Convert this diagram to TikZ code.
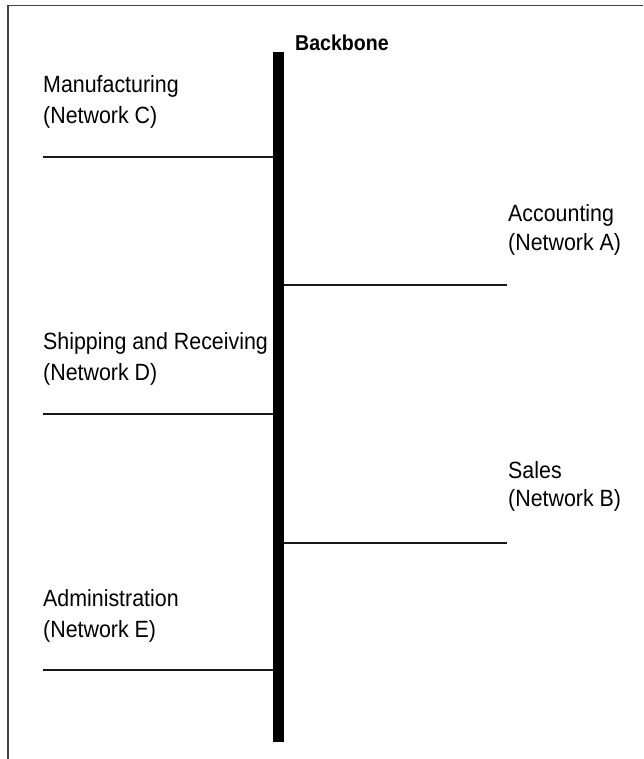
\documentclass[tikz,border=0pt]{standalone}
\usepackage{fontspec}
\setmainfont{Liberation Sans}[FakeStretch=0.91]
\begin{document}
\begin{tikzpicture}[x=1pt,y=-1pt,
  lbl/.style={anchor=base west, inner sep=0pt, font=\fontsize{23.5}{27}\selectfont},
  seg/.style={line width=2.2pt, draw=black!90},
  frameline/.style={line width=1.6pt, draw=black!75}]
\useasboundingbox (0,0) rectangle (643,759);
% frame (top and left edges)
\coordinate (ftr) at (643,5.5);
\coordinate (ftl) at (8,5.5);
\coordinate (fbl) at (8,759);
\draw[frameline] (ftr) -- (ftl) -- (fbl);
% backbone
\node[fill=black, inner sep=0pt, minimum width=11pt, minimum height=690pt, anchor=north west] (bb) at (273,52) {};
\node[anchor=base west, inner sep=0pt, font=\bfseries\fontsize{21.5}{24}\selectfont] (bbl) at (295,51) {Backbone};
% left networks
\node[lbl] (mC1) at (43,93) {Manufacturing};
\node[lbl] (mC2) at (43,124) {(Network C)};
\coordinate (C) at (43,157);
\draw[seg] (C) -- (C -| bb.west);
\node[lbl] (mD1) at (43,349) {Shipping and Receiving};
\node[lbl] (mD2) at (43,380) {(Network D)};
\coordinate (D) at (43,414);
\draw[seg] (D) -- (D -| bb.west);
\node[lbl] (mE1) at (43,606) {Administration};
\node[lbl] (mE2) at (43,637) {(Network E)};
\coordinate (E) at (43,670);
\draw[seg] (E) -- (E -| bb.west);
% right networks
\node[lbl] (mA1) at (508,222) {Accounting};
\node[lbl] (mA2) at (508,250) {(Network A)};
\coordinate (A) at (507,285);
\draw[seg] (A -| bb.east) -- (A);
\node[lbl] (mB1) at (508,478) {Sales};
\node[lbl] (mB2) at (508,506) {(Network B)};
\coordinate (B) at (507,543);
\draw[seg] (B -| bb.east) -- (B);
\end{tikzpicture}
\end{document}
